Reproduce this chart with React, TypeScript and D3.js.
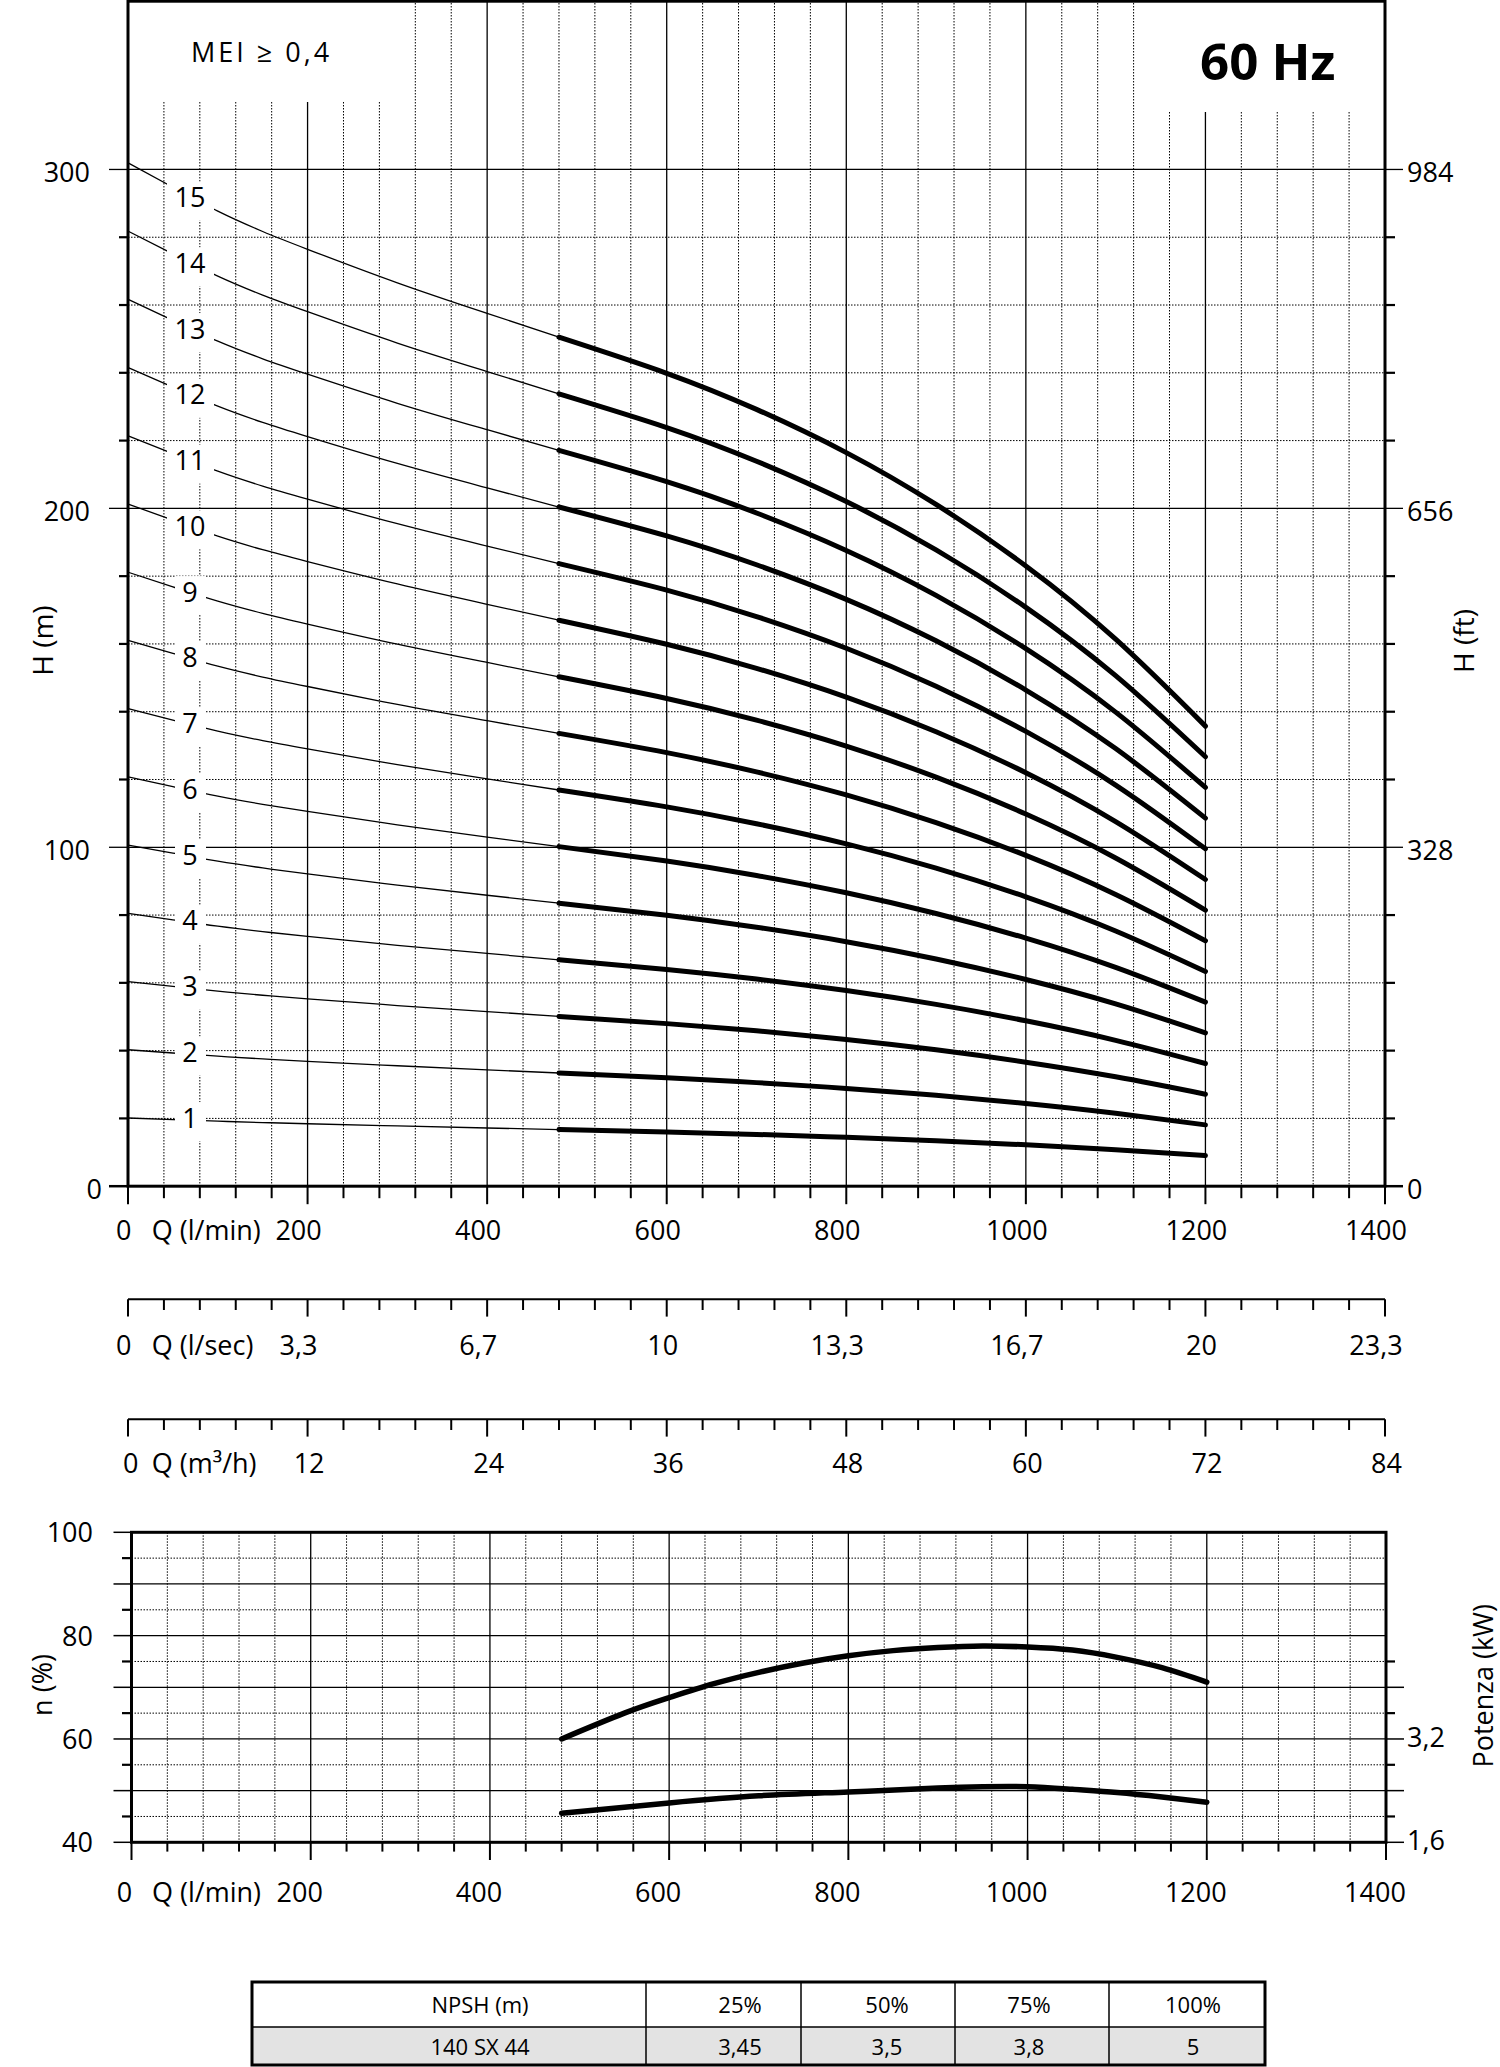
import React from 'react';
import * as d3 from 'd3';

// ---------- DATA ----------
const stages = d3.range(1, 16);
// head per stage (m) - thin (out of range) part
const lowFlowQ = [0, 50, 100, 150, 200, 300, 400, 480];
const lowFlowHeadPerStage = [20.13, 19.65, 19.18, 18.78, 18.43, 17.77, 17.17, 16.7];
// head per stage (m) - working range (thick)
const workQ = [480, 600, 700, 800, 900, 1000, 1100, 1200];
const workHeadPerStage = [16.7, 15.99, 15.28, 14.43, 13.41, 12.2, 10.76, 9.05];

// efficiency (%)
const effQ = [480, 550, 600, 650, 700, 750, 800, 850, 900, 950, 1000, 1050, 1100, 1150, 1200];
const effPct = [60.0, 65.0, 68.0, 70.7, 72.9, 74.7, 76.1, 77.1, 77.7, 78.0, 77.8, 77.2, 75.8, 73.8, 71.0];
// power (kW)
const powQ = [480, 600, 700, 800, 900, 950, 1000, 1050, 1100, 1150, 1200];
const powKW = [2.05, 2.21, 2.32, 2.38, 2.44, 2.46, 2.46, 2.42, 2.37, 2.3, 2.22];

const headLabelsM = [0, 100, 200, 300];
const headLabelsFt = ['0', '328', '656', '984'];
const qMinLabels = [200, 400, 600, 800, 1000, 1200, 1400];
const qSecValues = [3.333, 6.667, 10, 13.333, 16.667, 20, 23.333];
const qSecLabels = ['3,3', '6,7', '10', '13,3', '16,7', '20', '23,3'];
const qM3hValues = [12, 24, 36, 48, 60, 72, 84];
const effLabels = [40, 60, 80, 100];
const powLabels = [1.6, 3.2];
const npshHeader = ['NPSH (m)', '25%', '50%', '75%', '100%'];
const npshRow = ['140 SX 44', '3,45', '3,5', '3,8', '5'];

const FONT = "'Open Sans', 'Noto Sans', sans-serif";

export default function App() {
  // main chart scales
  const x = d3.scaleLinear().domain([0, 1400]).range([128, 1385]);
  const y = d3.scaleLinear().domain([0, 350]).range([1186.2, 0]);
  const ftScale = d3.scaleLinear().domain([0, 350 * 3.28]).range([1186.2, 0]);
  const xSec = d3.scaleLinear().domain([0, 1400 / 60]).range([128, 1385]);
  const xM3h = d3.scaleLinear().domain([0, 84]).range([128, 1385]);
  // lower chart scales
  const x2 = d3.scaleLinear().domain([0, 1400]).range([131.5, 1386]);
  const y2 = d3.scaleLinear().domain([40, 100]).range([1842.3, 1532.3]);
  const yKW = d3.scaleLinear().domain([1.6, 3.2]).range([y2(40), y2(60)]);

  const X0 = x(0), X1 = x(1400), Y0 = y(0), YT = y(350);

  const line = d3.line<[number, number]>().x(d => x(d[0])).y(d => y(d[1])).curve(d3.curveNatural);
  const effLine = d3.line<[number, number]>().x(d => x2(d[0])).y(d => y2(d[1])).curve(d3.curveNatural);
  const powLine = d3.line<[number, number]>().x(d => x2(d[0])).y(d => yKW(d[1])).curve(d3.curveNatural);

  const dot = '1.5,1.5';
  const gridQ = d3.range(40, 1400, 40);

  const mainVGrid = gridQ.map(q => {
    const solid = q % 200 === 0;
    const top = q <= 280 ? 102 : q >= 1160 ? 112 : YT;
    return (
      <line key={'v' + q} x1={x(q)} x2={x(q)} y1={top} y2={Y0}
        stroke="#000" strokeWidth={solid ? 1.3 : 1} strokeDasharray={solid ? undefined : dot} />
    );
  });
  const mainHGrid = d3.range(20, 301, 20).map(h => {
    const solid = h % 100 === 0;
    return (
      <line key={'h' + h} x1={X0} x2={X1} y1={y(h)} y2={y(h)}
        stroke="#000" strokeWidth={solid ? 1.3 : 1} strokeDasharray={solid ? undefined : dot} />
    );
  });

  const leftTicks = d3.range(0, 301, 20).map(h => {
    const major = h % 100 === 0;
    return major ? (
      <g key={'lt' + h}>
        <line x1={X0 - 19} x2={X0} y1={y(h)} y2={y(h)} stroke="#000" strokeWidth={h === 0 ? 2.5 : 1.3} />
        <line x1={X1} x2={X1 + 18} y1={y(h)} y2={y(h)} stroke="#000" strokeWidth={h === 0 ? 2.5 : 1.3} />
      </g>
    ) : (
      <g key={'lt' + h}>
        <line x1={X0 - 9} x2={X0} y1={y(h)} y2={y(h)} stroke="#000" strokeWidth={2.2} />
        <line x1={X1} x2={X1 + 10} y1={y(h)} y2={y(h)} stroke="#000" strokeWidth={2.2} />
      </g>
    );
  });

  const flowTicks = (yy: number, minorLen: number, majorLen: number, k: string) =>
    d3.range(0, 1401, 40).map(q => (
      <line key={k + q} x1={x(q)} x2={x(q)} y1={yy} y2={yy + (q % 200 === 0 ? majorLen : minorLen)}
        stroke="#000" strokeWidth={2} />
    ));

  // curve label positions
  const labelHead = (n: number) => 19.4 * n + 0.7;

  const txt = { fontFamily: FONT, fontSize: 27, fill: '#000' } as const;

  // table geometry
  const colX = [252, 646, 801, 955, 1109, 1265];
  const rowY = [1982, 2027, 2065];
  const colTextX = [480, 740, 887, 1029, 1193];

  return (
    <svg width={1500} height={2067} style={{ position: 'absolute', left: 0, top: 0, background: '#fff' }}
      xmlns="http://www.w3.org/2000/svg">
      <rect x={0} y={0} width={1500} height={2067} fill="#fff" />

      {/* ===== MAIN CHART ===== */}
      {mainVGrid}
      {mainHGrid}

      {/* thin (extended) curves */}
      {stages.map(n => (
        <path key={'thin' + n}
          d={line(lowFlowQ.map((q, i) => [q, lowFlowHeadPerStage[i] * n] as [number, number])) || ''}
          fill="none" stroke="#000" strokeWidth={1.3} />
      ))}

      {/* curve labels with white background */}
      {stages.map(n => {
        const cy = y(labelHead(n));
        const w = n >= 10 ? 47 : 31;
        return (
          <g key={'lab' + n}>
            <rect x={190.5 - w / 2} y={cy - 16} width={w} height={39} fill="#fff" />
            <text x={190} y={cy + 9.6} textAnchor="middle" {...txt}>{n}</text>
          </g>
        );
      })}

      {/* thick working curves */}
      {stages.map(n => (
        <path key={'thick' + n}
          d={line(workQ.map((q, i) => [q, workHeadPerStage[i] * n] as [number, number])) || ''}
          fill="none" stroke="#000" strokeWidth={5} strokeLinecap="round" />
      ))}

      {/* frame */}
      <rect x={X0} y={1.2} width={X1 - X0} height={Y0 - 1.2} fill="none" stroke="#000" strokeWidth={3} />
      {leftTicks}
      {flowTicks(Y0, 12, 18, 'bt')}

      {/* header texts */}
      <text x={191} y={62} {...txt} letterSpacing={3}>MEI ≥ 0,4</text>
      <text x={1200} y={80} fontFamily={FONT} fontSize={51} fontWeight="bold">60 Hz</text>

      {/* head axis labels */}
      {headLabelsM.map(h => (
        <text key={'hl' + h} x={h === 0 ? 102 : 90} y={y(h) + 13} textAnchor="end" {...txt}>{h}</text>
      ))}
      {headLabelsM.map((h, i) => (
        <text key={'hf' + h} x={1407} y={ftScale(h * 3.28) + 13} {...txt}>{headLabelsFt[i]}</text>
      ))}
      <text transform="translate(52.7,640.6) rotate(-90)" textAnchor="middle" {...txt} fontSize={28}>H (m)</text>
      <text transform="translate(1474.3,641) rotate(-90)" textAnchor="middle" {...txt} fontSize={28}>H (ft)</text>

      {/* l/min axis labels */}
      <text x={123.7} y={1240} textAnchor="middle" {...txt}>0</text>
      <text x={151.8} y={1240} {...txt}>Q (l/min)</text>
      {qMinLabels.map(q => (
        <text key={'qm' + q} x={x(q) - 9} y={1240} textAnchor="middle" {...txt}>{q}</text>
      ))}

      {/* l/sec axis */}
      <line x1={X0} x2={X1} y1={1299.3} y2={1299.3} stroke="#000" strokeWidth={2} />
      {flowTicks(1299.3, 10.7, 17.3, 'ls')}
      <text x={123.7} y={1355} textAnchor="middle" {...txt}>0</text>
      <text x={151.8} y={1355} {...txt}>Q (l/sec)</text>
      {qSecValues.map((v, i) => (
        <text key={'qs' + i} x={xSec(v) + (qSecLabels[i].includes(',') ? -9 : -4)} y={1355}
          textAnchor="middle" {...txt}>{qSecLabels[i]}</text>
      ))}

      {/* m3/h axis */}
      <line x1={X0} x2={X1} y1={1419.3} y2={1419.3} stroke="#000" strokeWidth={2} />
      {flowTicks(1419.3, 10.7, 17.3, 'mh')}
      <text x={130.8} y={1473} textAnchor="middle" {...txt}>0</text>
      <text x={151.8} y={1473} {...txt}>Q (m³/h)</text>
      {qM3hValues.map(v => (
        <text key={'q3' + v} x={xM3h(v) + 1.5} y={1473} textAnchor="middle" {...txt}>{v}</text>
      ))}

      {/* ===== LOWER CHART ===== */}
      {gridQ.map(q => {
        const solid = q % 200 === 0;
        return (
          <line key={'v2' + q} x1={x2(q)} x2={x2(q)} y1={y2(100)} y2={y2(40)}
            stroke="#000" strokeWidth={solid ? 1.3 : 1} strokeDasharray={solid ? undefined : dot} />
        );
      })}
      {d3.range(45, 100, 5).map(e => {
        const solid = e % 10 === 0;
        return (
          <line key={'h2' + e} x1={x2(0)} x2={x2(1400)} y1={y2(e)} y2={y2(e)}
            stroke="#000" strokeWidth={solid ? 1.3 : 1} strokeDasharray={solid ? undefined : dot} />
        );
      })}
      {d3.range(40, 101, 5).map(e => (
        <line key={'lt2' + e} x1={x2(0) - (e % 10 === 0 ? 18 : 9.5)} x2={x2(0)} y1={y2(e)} y2={y2(e)}
          stroke="#000" strokeWidth={e % 10 === 0 ? 1.5 : 2.2} />
      ))}
      {d3.range(0, 8).map(i => {
        const kw = 1.6 + i * 0.4;
        const long = i % 2 === 0;
        return (
          <line key={'rt2' + i} x1={x2(1400)} x2={x2(1400) + (long ? 18 : 9)} y1={yKW(kw)} y2={yKW(kw)}
            stroke="#000" strokeWidth={long ? 1.5 : 2.2} />
        );
      })}
      {d3.range(0, 1401, 40).map(q => (
        <line key={'bt2' + q} x1={x2(q)} x2={x2(q)} y1={y2(40)} y2={y2(40) + (q % 200 === 0 ? 17.7 : 9.3)}
          stroke="#000" strokeWidth={2} />
      ))}

      <path d={effLine(effQ.map((q, i) => [q, effPct[i]] as [number, number])) || ''}
        fill="none" stroke="#000" strokeWidth={5.5} strokeLinecap="round" />
      <path d={powLine(powQ.map((q, i) => [q, powKW[i]] as [number, number])) || ''}
        fill="none" stroke="#000" strokeWidth={5.5} strokeLinecap="round" />

      <rect x={x2(0)} y={y2(100)} width={x2(1400) - x2(0)} height={y2(40) - y2(100)}
        fill="none" stroke="#000" strokeWidth={3} />

      {effLabels.map(e => (
        <text key={'el' + e} x={93} y={y2(e) + 10} textAnchor="end" {...txt}>{e}</text>
      ))}
      {powLabels.map(p => (
        <text key={'pl' + p} x={1407} y={yKW(p) + 8} {...txt}>{String(p).replace('.', ',')}</text>
      ))}
      <text transform="translate(52,1685) rotate(-90)" textAnchor="middle" {...txt}>n (%)</text>
      <text transform="translate(1493,1685.8) rotate(-90)" textAnchor="middle" {...txt}>Potenza (kW)</text>

      <text x={124.4} y={1901.7} textAnchor="middle" {...txt}>0</text>
      <text x={152} y={1901.7} {...txt}>Q (l/min)</text>
      {qMinLabels.map(q => (
        <text key={'qm2' + q} x={x2(q) - 11} y={1901.7} textAnchor="middle" {...txt}>{q}</text>
      ))}

      {/* ===== NPSH TABLE ===== */}
      <rect x={colX[0]} y={rowY[1]} width={colX[5] - colX[0]} height={rowY[2] - rowY[1]} fill="#e3e3e3" />
      <line x1={colX[0]} x2={colX[5]} y1={rowY[1]} y2={rowY[1]} stroke="#000" strokeWidth={1.5} />
      {colX.slice(1, 5).map(cx => (
        <line key={'c' + cx} x1={cx} x2={cx} y1={rowY[0]} y2={rowY[2]} stroke="#000" strokeWidth={1.5} />
      ))}
      <rect x={colX[0]} y={rowY[0]} width={colX[5] - colX[0]} height={rowY[2] - rowY[0]}
        fill="none" stroke="#000" strokeWidth={3} />
      {npshHeader.map((t, i) => (
        <text key={'th' + i} x={colTextX[i]} y={2013} textAnchor="middle" fontFamily={FONT} fontSize={22}>{t}</text>
      ))}
      {npshRow.map((t, i) => (
        <text key={'tr' + i} x={colTextX[i]} y={2055} textAnchor="middle" fontFamily={FONT} fontSize={22}>{t}</text>
      ))}
    </svg>
  );
}
